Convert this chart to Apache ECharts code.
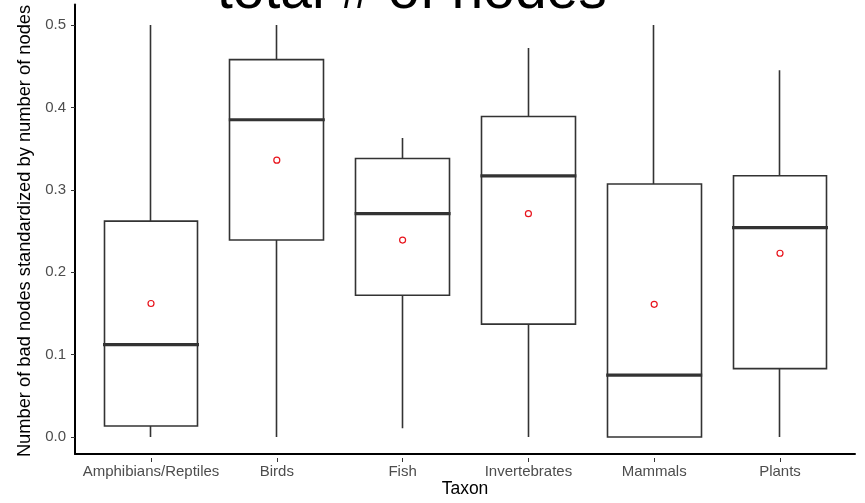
<!DOCTYPE html>
<html>
<head>
<meta charset="utf-8">
<script src="https://cdn.jsdelivr.net/npm/echarts@6/dist/echarts.min.js"></script>
<style>
  html, body { margin: 0; padding: 0; background: #fff; }
  #chart { width: 865px; height: 503px; }
</style>
</head>
<body>
<div id="chart"></div>
<script>
// values
var categories = ["Amphibians/Reptiles", "Birds", "Fish", "Invertebrates", "Mammals", "Plants"];
var minVals = [0, 0, 0.0105, 0, 0, 0];
var q1Vals = [0.0133, 0.239, 0.172, 0.137, 0, 0.083];
var medianVals = [0.112, 0.385, 0.271, 0.317, 0.075, 0.254];
var q3Vals = [0.262, 0.458, 0.338, 0.389, 0.307, 0.317];
var maxVals = [0.5, 0.5, 0.363, 0.472, 0.5, 0.445];
var meanVals = [0.162, 0.336, 0.239, 0.271, 0.161, 0.223];

var font = "'Liberation Sans', Arial, Helvetica, sans-serif";

// candlestick draws box + whiskers without end caps: [open, close, low, high]
var boxData = categories.map(function (c, i) {
  return [q1Vals[i], q3Vals[i], minVals[i], maxVals[i]];
});

var myChart = echarts.init(document.getElementById("chart"));
var option = {
  animation: false,
  backgroundColor: "#fff",
  title: {
    text: "total # of nodes",
    left: 217,
    top: -36,
    padding: 0,
    textStyle: {
      fontFamily: font,
      fontSize: 57,
      fontWeight: "normal",
      color: "#000",
    },
  },
  grid: [
    // data grid
    { left: 88.1, width: 754.8, top: 25, height: 412 },
    // frame grid, only draws the long axis lines
    { left: 75, right: 10, top: 4.4, bottom: 45.4 },
  ],
  xAxis: [
    {
      type: "category",
      gridIndex: 0,
      data: categories,
      offset: 21,
      axisLine: { show: false, onZero: false },
      axisTick: {
        show: true,
        interval: 0,
        alignWithLabel: true,
        length: 4,
        lineStyle: { color: "#333", width: 1 },
      },
      axisLabel: {
        interval: 0,
        margin: 6.5,
        fontFamily: font,
        fontSize: 15,
        color: "#4d4d4d",
      },
      splitLine: { show: false },
    },
    {
      type: "value",
      gridIndex: 1,
      min: 0,
      max: 1,
      name: "Taxon",
      nameLocation: "middle",
      nameGap: 26,
      nameTextStyle: { fontFamily: font, fontSize: 17.5, color: "#000" },
      axisLine: { show: true, onZero: false, lineStyle: { color: "#000", width: 2 } },
      axisTick: { show: false },
      axisLabel: { show: false },
      splitLine: { show: false },
    },
  ],
  yAxis: [
    {
      type: "value",
      gridIndex: 0,
      min: 0,
      max: 0.5,
      interval: 0.1,
      offset: 13.1,
      name: "Number of bad nodes standardized by number of nodes",
      nameLocation: "middle",
      nameGap: 37,
      nameTextStyle: { fontFamily: font, fontSize: 18.3, color: "#000" },
      axisLine: { show: false, onZero: false },
      axisTick: { show: true, length: 4, lineStyle: { color: "#333", width: 1 } },
      axisLabel: {
        margin: 9,
        fontFamily: font,
        fontSize: 15,
        color: "#4d4d4d",
        formatter: function (v) {
          return v.toFixed(1);
        },
      },
      splitLine: { show: false },
    },
    {
      type: "value",
      gridIndex: 1,
      min: 0,
      max: 1,
      axisLine: { show: true, onZero: false, lineStyle: { color: "#000", width: 2 } },
      axisTick: { show: false },
      axisLabel: { show: false },
      splitLine: { show: false },
    },
  ],
  series: [
    {
      type: "candlestick",
      xAxisIndex: 0,
      yAxisIndex: 0,
      data: boxData,
      barWidth: "75%",
      itemStyle: {
        color: "#fff",
        color0: "#fff",
        borderColor: "#333",
        borderColor0: "#333",
        borderWidth: 1.6,
      },
      z: 2,
    },
    {
      // median bar
      type: "scatter",
      xAxisIndex: 0,
      yAxisIndex: 0,
      data: medianVals,
      symbol: "rect",
      symbolSize: [96, 3.2],
      itemStyle: { color: "#333", opacity: 1 },
      z: 3,
    },
    {
      // mean points
      type: "scatter",
      xAxisIndex: 0,
      yAxisIndex: 0,
      data: meanVals,
      symbol: "circle",
      symbolSize: 6,
      itemStyle: { color: "rgba(255,255,255,0)", borderColor: "#e8141c", borderWidth: 1.2, opacity: 1 },
      z: 4,
    },
  ],
};
myChart.setOption(option);
</script>
</body>
</html>
